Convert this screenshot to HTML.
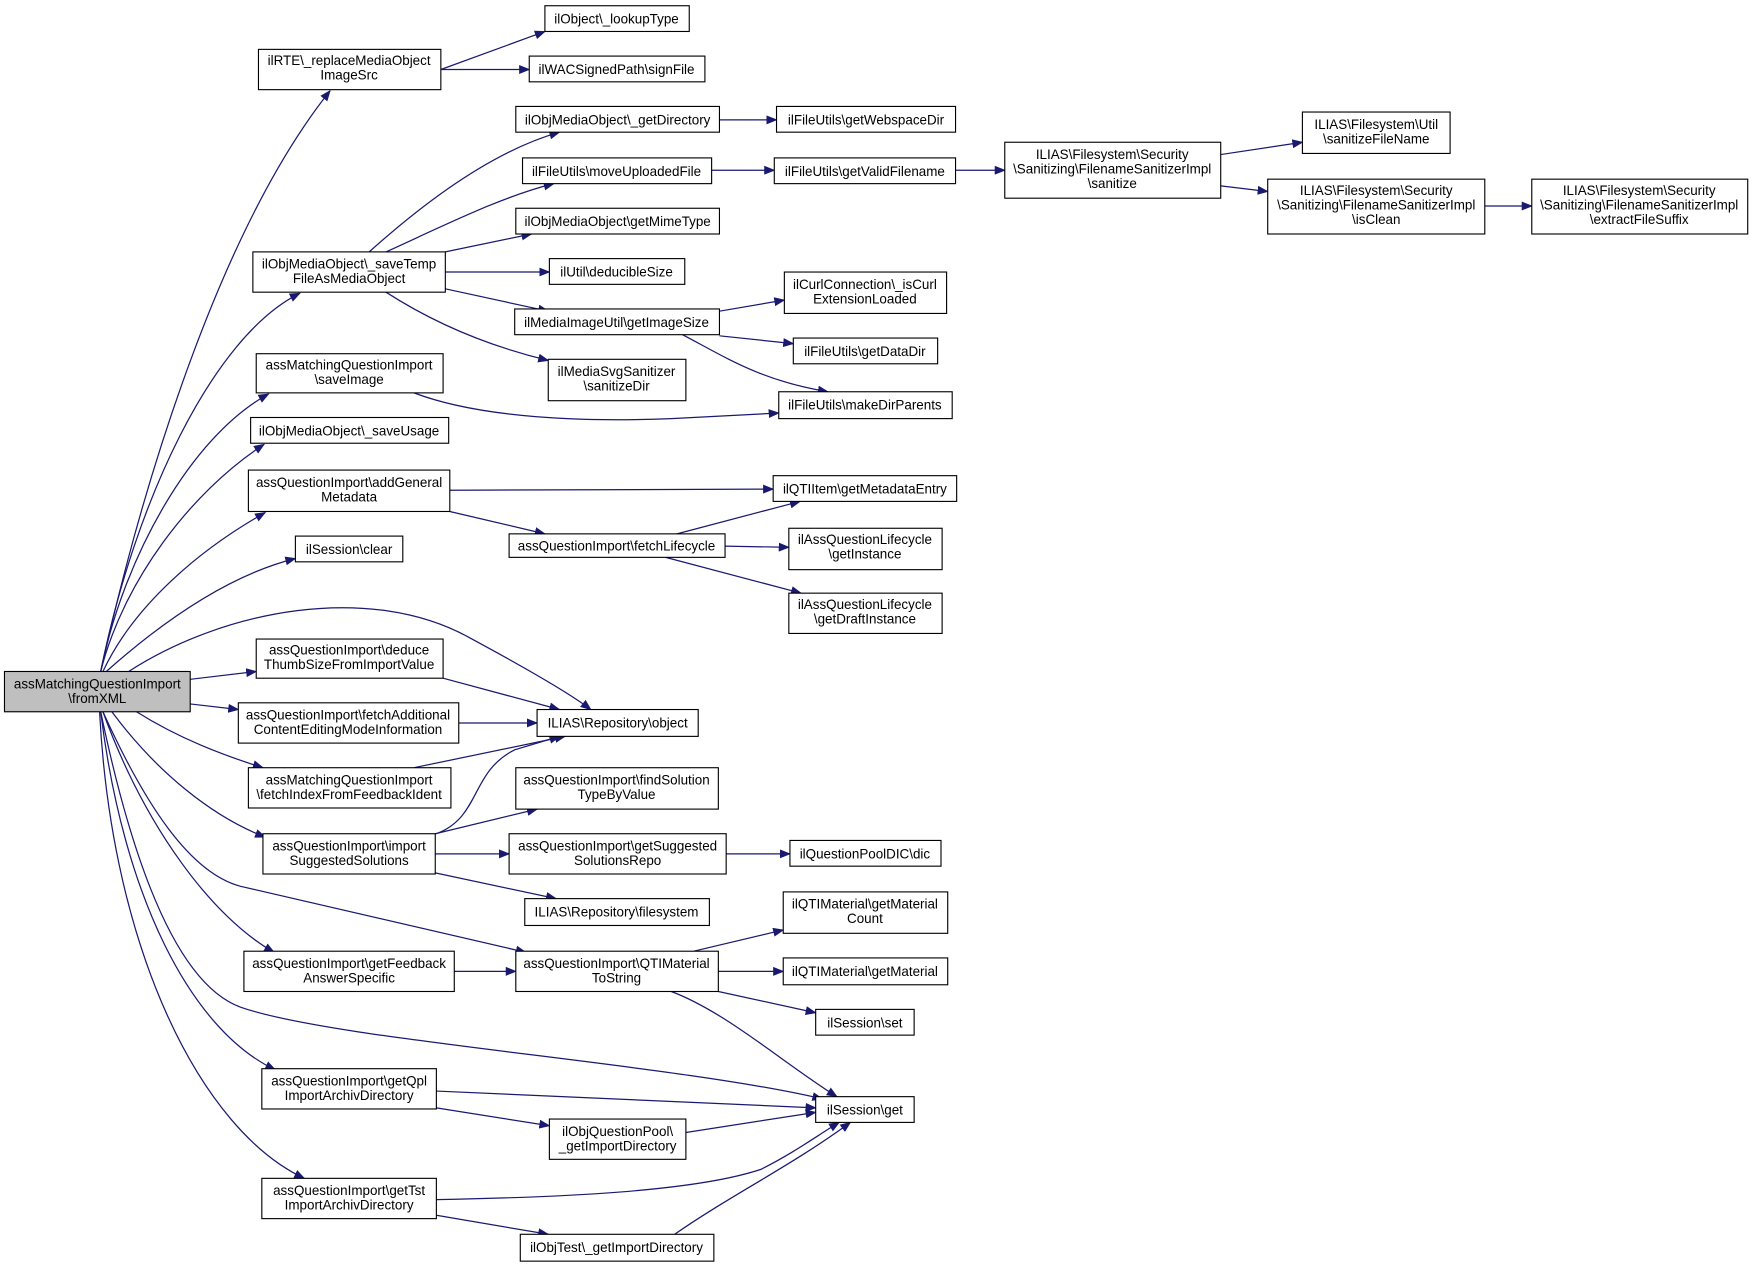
<!DOCTYPE html>
<html><head><meta charset="utf-8"><style>
html,body{margin:0;padding:0;background:#fff;}
svg{display:block;}
text{font-family:"Liberation Sans",Arial,sans-serif;font-size:12px;fill:#000;text-anchor:middle;}
rect{fill:#fff;stroke:#000;stroke-width:1;}
path{fill:none;stroke:#191970;stroke-width:1.1;marker-end:url(#a);}
</style></head><body>
<svg width="1755" height="1268" viewBox="0 0 1568.5 1133" xmlns="http://www.w3.org/2000/svg">
<defs><marker id="a" markerWidth="10" markerHeight="8" refX="9" refY="4" orient="auto" markerUnits="userSpaceOnUse"><polygon points="0,0 10,4 0,8" fill="#191970"/></marker></defs>
<!-- edges -->
<path d="M90,600 C130,420 200,200 295,81"/>
<path d="M90,600 C120,450 190,300 268,262"/>
<path d="M90,600 C110,500 170,390 240,352"/>
<path d="M90,600 C110,520 170,440 236,397"/>
<path d="M92,600 C120,540 180,490 237,458"/>
<path d="M95,600 C140,560 200,515 264,499"/>
<path d="M115,600 C200,545 330,520 420,570 C470,597 510,620 528,634"/>
<path d="M170,607 L229,600"/>
<path d="M170,629 L213,634"/>
<path d="M122,636 C160,660 200,675 235,686"/>
<path d="M100,636 C140,690 190,730 237,748"/>
<path d="M92,636 C130,720 170,780 215,792 L470,851"/>
<path d="M92,636 C130,740 190,820 245,851"/>
<path d="M90,636 C120,780 160,880 215,900 C300,930 600,950 735,982"/>
<path d="M90,636 C110,800 170,920 246,956"/>
<path d="M89,636 C100,850 180,1010 272,1053"/>
<path d="M394,62 L487,28"/>
<path d="M394,62 L473,62"/>
<path d="M330,225 C380,180 440,135 500,118"/>
<path d="M345,225 C400,200 450,175 495,164"/>
<path d="M398,225 L475,209"/>
<path d="M398,243 L491,243"/>
<path d="M398,258 L490,278"/>
<path d="M345,261 C390,290 440,310 490,322"/>
<path d="M643,107 L694,107"/>
<path d="M636,152 L692,152"/>
<path d="M854,152 L898,152"/>
<path d="M1091,138 L1164,127"/>
<path d="M1091,166 L1133,171"/>
<path d="M1327,184 L1369,184"/>
<path d="M643,278 L701,268"/>
<path d="M643,300 L709,307"/>
<path d="M610,299 C650,320 680,340 740,350"/>
<path d="M370,351 C420,370 500,378 600,374 L696,369"/>
<path d="M402,438 L691,437"/>
<path d="M402,457 L487,477"/>
<path d="M605,477 L715,448"/>
<path d="M648,488 L705,489"/>
<path d="M595,498 L716,530"/>
<path d="M396,606 L500,634"/>
<path d="M410,646 L480,646"/>
<path d="M370,686 L505,658"/>
<path d="M390,745 C430,730 420,690 460,670 L500,658"/>
<path d="M389,745 L480,723"/>
<path d="M389,763 L455,763"/>
<path d="M389,780 L497,803"/>
<path d="M649,763 L706,763"/>
<path d="M406,868 L461,868"/>
<path d="M620,850 L700,831"/>
<path d="M642,868 L700,868"/>
<path d="M642,886 L729,905"/>
<path d="M600,886 C650,905 700,950 748,980"/>
<path d="M390,975 L729,990"/>
<path d="M390,990 L491,1006"/>
<path d="M613,1012 L729,994"/>
<path d="M390,1072 C500,1070 620,1065 680,1045 C710,1030 730,1015 750,1003"/>
<path d="M390,1086 L490,1103"/>
<path d="M603,1103 C650,1070 710,1040 760,1003"/>
<!-- nodes -->
<rect x="4" y="600" width="166" height="36" style="fill:#bfbfbf"/><text x="87" y="615">assMatchingQuestionImport</text><text x="87" y="628">\fromXML</text>
<rect x="231" y="44" width="163" height="36"/><text x="312" y="58">ilRTE\_replaceMediaObject</text><text x="312" y="71">ImageSrc</text>
<rect x="487" y="5" width="129" height="23"/><text x="551" y="21">ilObject\_lookupType</text>
<rect x="473" y="50" width="157" height="23"/><text x="551" y="66">ilWACSignedPath\signFile</text>
<rect x="461" y="95" width="182" height="23"/><text x="552" y="111">ilObjMediaObject\_getDirectory</text>
<rect x="694" y="95" width="160" height="23"/><text x="774" y="111">ilFileUtils\getWebspaceDir</text>
<rect x="467" y="141" width="169" height="23"/><text x="551" y="157">ilFileUtils\moveUploadedFile</text>
<rect x="692" y="141" width="162" height="23"/><text x="773" y="157">ilFileUtils\getValidFilename</text>
<rect x="898" y="127" width="193" height="50"/><text x="994" y="142">ILIAS\Filesystem\Security</text><text x="994" y="155">\Sanitizing\FilenameSanitizerImpl</text><text x="994" y="168">\sanitize</text>
<rect x="1164" y="100" width="132" height="37"/><text x="1230" y="115">ILIAS\Filesystem\Util</text><text x="1230" y="128">\sanitizeFileName</text>
<rect x="1133" y="160" width="194" height="49"/><text x="1230" y="174">ILIAS\Filesystem\Security</text><text x="1230" y="187">\Sanitizing\FilenameSanitizerImpl</text><text x="1230" y="200">\isClean</text>
<rect x="1369" y="160" width="193" height="49"/><text x="1465" y="174">ILIAS\Filesystem\Security</text><text x="1465" y="187">\Sanitizing\FilenameSanitizerImpl</text><text x="1465" y="200">\extractFileSuffix</text>
<rect x="461" y="186" width="182" height="23"/><text x="552" y="202">ilObjMediaObject\getMimeType</text>
<rect x="226" y="225" width="172" height="36"/><text x="312" y="240">ilObjMediaObject\_saveTemp</text><text x="312" y="253">FileAsMediaObject</text>
<rect x="491" y="231" width="121" height="23"/><text x="551" y="247">ilUtil\deducibleSize</text>
<rect x="701" y="243" width="145" height="37"/><text x="773" y="258">ilCurlConnection\_isCurl</text><text x="773" y="271">ExtensionLoaded</text>
<rect x="460" y="276" width="183" height="23"/><text x="551" y="292">ilMediaImageUtil\getImageSize</text>
<rect x="709" y="302" width="129" height="23"/><text x="773" y="318">ilFileUtils\getDataDir</text>
<rect x="490" y="321" width="123" height="37"/><text x="551" y="336">ilMediaSvgSanitizer</text><text x="551" y="349">\sanitizeDir</text>
<rect x="229" y="316" width="167" height="35"/><text x="312" y="330">assMatchingQuestionImport</text><text x="312" y="343">\saveImage</text>
<rect x="696" y="350" width="155" height="24"/><text x="773" y="366">ilFileUtils\makeDirParents</text>
<rect x="224" y="373" width="177" height="23"/><text x="312" y="389">ilObjMediaObject\_saveUsage</text>
<rect x="222" y="420" width="180" height="37"/><text x="312" y="435">assQuestionImport\addGeneral</text><text x="312" y="448">Metadata</text>
<rect x="691" y="425" width="164" height="23"/><text x="773" y="441">ilQTIItem\getMetadataEntry</text>
<rect x="455" y="477" width="193" height="21"/><text x="551" y="492">assQuestionImport\fetchLifecycle</text>
<rect x="705" y="472" width="137" height="37"/><text x="773" y="486">ilAssQuestionLifecycle</text><text x="773" y="499">\getInstance</text>
<rect x="705" y="530" width="137" height="36"/><text x="773" y="544">ilAssQuestionLifecycle</text><text x="773" y="557">\getDraftInstance</text>
<rect x="264" y="479" width="96" height="23"/><text x="312" y="495">ilSession\clear</text>
<rect x="229" y="571" width="167" height="35"/><text x="312" y="585">assQuestionImport\deduce</text><text x="312" y="598">ThumbSizeFromImportValue</text>
<rect x="213" y="628" width="197" height="36"/><text x="311" y="643">assQuestionImport\fetchAdditional</text><text x="311" y="656">ContentEditingModeInformation</text>
<rect x="480" y="634" width="144" height="24"/><text x="552" y="650">ILIAS\Repository\object</text>
<rect x="222" y="686" width="181" height="36"/><text x="312" y="701">assMatchingQuestionImport</text><text x="312" y="714">\fetchIndexFromFeedbackIdent</text>
<rect x="461" y="686" width="181" height="37"/><text x="551" y="701">assQuestionImport\findSolution</text><text x="551" y="714">TypeByValue</text>
<rect x="235" y="745" width="154" height="36"/><text x="312" y="760">assQuestionImport\import</text><text x="312" y="773">SuggestedSolutions</text>
<rect x="455" y="745" width="194" height="36"/><text x="552" y="760">assQuestionImport\getSuggested</text><text x="552" y="773">SolutionsRepo</text>
<rect x="706" y="751" width="135" height="23"/><text x="773" y="767">ilQuestionPoolDIC\dic</text>
<rect x="469" y="803" width="165" height="24"/><text x="551" y="819">ILIAS\Repository\filesystem</text>
<rect x="700" y="797" width="147" height="37"/><text x="773" y="812">ilQTIMaterial\getMaterial</text><text x="773" y="825">Count</text>
<rect x="218" y="850" width="188" height="36"/><text x="312" y="865">assQuestionImport\getFeedback</text><text x="312" y="878">AnswerSpecific</text>
<rect x="461" y="850" width="181" height="36"/><text x="551" y="865">assQuestionImport\QTIMaterial</text><text x="551" y="878">ToString</text>
<rect x="700" y="856" width="147" height="24"/><text x="773" y="872">ilQTIMaterial\getMaterial</text>
<rect x="729" y="902" width="88" height="23"/><text x="773" y="918">ilSession\set</text>
<rect x="729" y="980" width="88" height="23"/><text x="773" y="996">ilSession\get</text>
<rect x="234" y="955" width="156" height="36"/><text x="312" y="970">assQuestionImport\getQpl</text><text x="312" y="983">ImportArchivDirectory</text>
<rect x="491" y="1000" width="122" height="36"/><text x="552" y="1015">ilObjQuestionPool\</text><text x="552" y="1028">_getImportDirectory</text>
<rect x="234" y="1053" width="156" height="36"/><text x="312" y="1068">assQuestionImport\getTst</text><text x="312" y="1081">ImportArchivDirectory</text>
<rect x="465" y="1103" width="173" height="24"/><text x="551" y="1119">ilObjTest\_getImportDirectory</text>
</svg>
</body></html>
